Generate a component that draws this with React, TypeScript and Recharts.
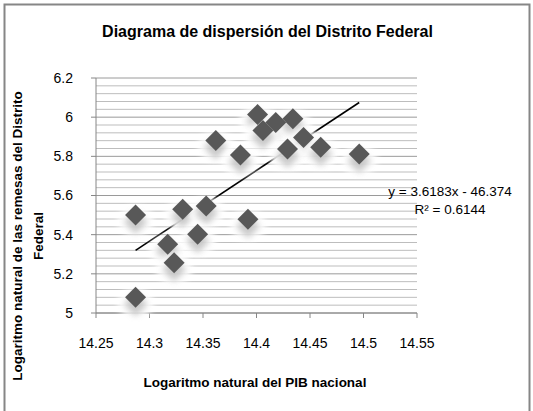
import React from 'react';
import { ScatterChart, Scatter, XAxis, YAxis, CartesianGrid, ReferenceLine } from 'recharts';

// Logaritmo natural del PIB nacional (x) vs remesas del Distrito Federal (y)
const pibLog = [
  14.287, 14.331, 14.353, 14.392, 14.345, 14.317, 14.323, 14.287, 14.362,
  14.385, 14.401, 14.418, 14.434, 14.406, 14.444, 14.429, 14.46, 14.496,
];
const remesasLog = [
  5.5, 5.53, 5.547, 5.479, 5.402, 5.351, 5.256, 5.081, 5.881,
  5.807, 6.013, 5.973, 5.992, 5.932, 5.896, 5.838, 5.846, 5.812,
];

// extremos de la línea de tendencia
const trendX = [14.287, 14.496];
const trendY = [5.32, 6.075];

const xTicks = [14.25, 14.3, 14.35, 14.4, 14.45, 14.5, 14.55];
const yTicks = [5, 5.2, 5.4, 5.6, 5.8, 6, 6.2];
const yMinor = [
  5.04, 5.08, 5.12, 5.16, 5.24, 5.28, 5.32, 5.36, 5.44, 5.48, 5.52, 5.56,
  5.64, 5.68, 5.72, 5.76, 5.84, 5.88, 5.92, 5.96, 6.04, 6.08, 6.12, 6.16,
];

const points = pibLog.map((x, i) => ({ x, y: remesasLog[i] }));
const FONT = '"Liberation Sans", Arial, sans-serif';

const Glow = (props: any) => {
  const { cx, cy } = props;
  if (cx == null || cy == null) return null;
  const s = 12;
  return (
    <g>
      <ellipse cx={cx} cy={cy + 6} rx={18} ry={15} fill="#ffffff" opacity={0.9} filter="url(#blurBig)" />
      <polygon
        points={`${cx},${cy + 7 - s} ${cx + s},${cy + 7} ${cx},${cy + 7 + s} ${cx - s},${cy + 7}`}
        fill="#9c9c9c"
        opacity={0.55}
        filter="url(#blurBig)"
      />
    </g>
  );
};

const Diamond = (props: any) => {
  const { cx, cy } = props;
  if (cx == null || cy == null) return null;
  const s = 10.5;
  return (
    <polygon
      points={`${cx},${cy - s} ${cx + s},${cy} ${cx},${cy + s} ${cx - s},${cy}`}
      fill="#595959"
      filter="url(#blurSmall)"
    />
  );
};

const tickStyle = { fill: '#000', fontSize: 14, fontFamily: FONT };

export default function App() {
  return (
    <div style={{ position: 'absolute', left: 0, top: 0, width: 533, height: 411, background: '#fff', overflow: 'hidden' }}>
      <svg width={0} height={0} style={{ position: 'absolute' }}>
        <defs>
          <filter id="blurBig" x="-100%" y="-100%" width="300%" height="300%">
            <feGaussianBlur stdDeviation={3} />
          </filter>
          <filter id="blurSmall" x="-50%" y="-50%" width="200%" height="200%">
            <feGaussianBlur stdDeviation={0.7} />
          </filter>
        </defs>
      </svg>
      <ScatterChart width={533} height={411} margin={{ top: 78, right: 116, bottom: 68, left: 0 }}>
        <CartesianGrid horizontal vertical={false} stroke="#9a9a9a" strokeWidth={1} />
        {yMinor.map((v) => (
          <ReferenceLine key={v} y={v} stroke="#bdbdbd" strokeWidth={1} />
        ))}
        <XAxis
          type="number"
          dataKey="x"
          domain={[14.25, 14.55]}
          ticks={xTicks}
          interval={0}
          height={30}
          tickSize={5}
          tickMargin={20}
          axisLine={{ stroke: '#868686' }}
          tickLine={{ stroke: '#868686' }}
          tick={tickStyle}
        />
        <YAxis
          type="number"
          dataKey="y"
          domain={[5, 6.2]}
          ticks={yTicks}
          interval={0}
          width={96}
          tickSize={5}
          tickMargin={18}
          axisLine={{ stroke: '#868686' }}
          tickLine={{ stroke: '#868686' }}
          tick={tickStyle}
        />
        <Scatter data={points} shape={Glow} isAnimationActive={false} />
        <Scatter data={points} shape={Diamond} isAnimationActive={false} />
        <ReferenceLine
          segment={[
            { x: trendX[0], y: trendY[0] },
            { x: trendX[1], y: trendY[1] },
          ]}
          stroke="#000"
          strokeWidth={1.6}
        />
      </ScatterChart>
      <svg
        width={533}
        height={411}
        style={{ position: 'absolute', left: 0, top: 0, pointerEvents: 'none' }}
        fontFamily={FONT}
      >
        <rect x={4.5} y={4.5} width={525} height={420} fill="none" stroke="#868686" strokeWidth={2} />
        <text x={267.5} y={36.7} textAnchor="middle" fontSize={16} fontWeight="bold" fill="#000">
          Diagrama de dispersión del Distrito Federal
        </text>
        <text x={255} y={386.5} textAnchor="middle" fontSize={13.5} fontWeight="bold" fill="#000">
          Logaritmo natural del PIB nacional
        </text>
        <text x={22} y={236} transform="rotate(-90, 22, 236)" textAnchor="middle" fontSize={13.5} fontWeight="bold" fill="#000">
          Logaritmo natural de las remesas del Distrito
        </text>
        <text x={43} y={236} transform="rotate(-90, 43, 236)" textAnchor="middle" fontSize={13.5} fontWeight="bold" fill="#000">
          Federal
        </text>
        <text x={450} y={196} textAnchor="middle" fontSize={13.5} fill="#000">
          y = 3.6183x - 46.374
        </text>
        <text x={450} y={214} textAnchor="middle" fontSize={13.5} fill="#000">
          R² = 0.6144
        </text>
      </svg>
    </div>
  );
}
